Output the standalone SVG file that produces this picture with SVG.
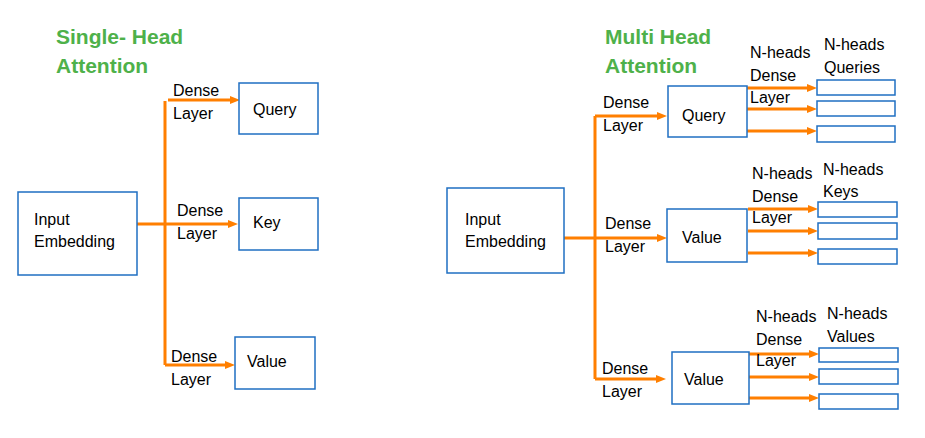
<svg xmlns="http://www.w3.org/2000/svg" width="925" height="438" viewBox="0 0 925 438">
<style>
.bx{fill:#fff;stroke:#1F6FC2;stroke-width:1.5}
.t{font-family:"Liberation Sans",Arial,sans-serif;font-size:16px;fill:#000}
.ttl{font-family:"Liberation Sans",Arial,sans-serif;font-size:21px;font-weight:bold;fill:#4EB14A}
.ln{fill:none;stroke:#FF7F00;stroke-width:3}
</style>
<defs>
<marker id="ah" viewBox="0 0 10 8" refX="0" refY="4" markerWidth="10" markerHeight="8" markerUnits="userSpaceOnUse" orient="auto">
<path d="M0,0 L10,4 L0,8 z" fill="#FF7F00"/>
</marker>
</defs>
<rect width="925" height="438" fill="#fff"/>

<g id="titles">
<text class="ttl" x="56" y="44">Single- Head</text>
<text class="ttl" x="56" y="73">Attention</text>
<text class="ttl" x="605" y="44">Multi Head</text>
<text class="ttl" x="605" y="73">Attention</text>
</g>

<g id="connectors">
<!-- single head -->
<path class="ln" d="M165,101 V365"/>
<path class="ln" d="M168,100 H230" marker-end="url(#ah)"/>
<path class="ln" d="M137,224 H228" marker-end="url(#ah)"/>
<path class="ln" d="M165,365 H225" marker-end="url(#ah)"/>
<!-- multi head -->
<path class="ln" d="M595,116 V379"/>
<path class="ln" d="M595,116 H657" marker-end="url(#ah)"/>
<path class="ln" d="M564,238 H657" marker-end="url(#ah)"/>
<path class="ln" d="M595,379 H656" marker-end="url(#ah)"/>
<path class="ln" d="M747,88 H807" marker-end="url(#ah)"/>
<path class="ln" d="M747,109 H807" marker-end="url(#ah)"/>
<path class="ln" d="M747,131 H807" marker-end="url(#ah)"/>
<path class="ln" d="M748,209 H808" marker-end="url(#ah)"/>
<path class="ln" d="M748,231 H808" marker-end="url(#ah)"/>
<path class="ln" d="M748,253 H808" marker-end="url(#ah)"/>
<path class="ln" d="M749,354 H809" marker-end="url(#ah)"/>
<path class="ln" d="M749,377 H809" marker-end="url(#ah)"/>
<path class="ln" d="M749,398 H809" marker-end="url(#ah)"/>
</g>

<g id="edge-labels">
<text class="t" x="173" y="96">Dense</text>
<text class="t" x="173" y="119">Layer</text>
<text class="t" x="177" y="216">Dense</text>
<text class="t" x="177" y="239">Layer</text>
<text class="t" x="171" y="362">Dense</text>
<text class="t" x="171" y="385">Layer</text>

<text class="t" x="603" y="108">Dense</text>
<text class="t" x="603" y="131">Layer</text>
<text class="t" x="605" y="229">Dense</text>
<text class="t" x="605" y="252">Layer</text>
<text class="t" x="602" y="374">Dense</text>
<text class="t" x="602" y="397">Layer</text>

<text class="t" x="750" y="58">N-heads</text>
<text class="t" x="750" y="81">Dense</text>
<text class="t" x="750" y="103">Layer</text>
<text class="t" x="752" y="179">N-heads</text>
<text class="t" x="752" y="202">Dense</text>
<text class="t" x="752" y="223">Layer</text>
<text class="t" x="756" y="322">N-heads</text>
<text class="t" x="756" y="345">Dense</text>
<text class="t" x="756" y="366">Layer</text>

<text class="t" x="824" y="50">N-heads</text>
<text class="t" x="824" y="73">Queries</text>
<text class="t" x="823" y="175">N-heads</text>
<text class="t" x="823" y="197">Keys</text>
<text class="t" x="827" y="319">N-heads</text>
<text class="t" x="827" y="342">Values</text>
</g>

<g id="sh-input">
<rect class="bx" x="18" y="192" width="119" height="83"/>
<text class="t" x="34" y="225">Input</text>
<text class="t" x="34" y="247">Embedding</text>
</g>
<g id="sh-query">
<rect class="bx" x="239" y="83" width="79" height="51"/>
<text class="t" x="253" y="115">Query</text>
</g>
<g id="sh-key">
<rect class="bx" x="239" y="198" width="79" height="52"/>
<text class="t" x="253" y="228">Key</text>
</g>
<g id="sh-value">
<rect class="bx" x="235" y="337" width="80" height="52"/>
<text class="t" x="247" y="367">Value</text>
</g>

<g id="mh-input">
<rect class="bx" x="447" y="188" width="117" height="85"/>
<text class="t" x="465" y="225">Input</text>
<text class="t" x="465" y="247">Embedding</text>
</g>
<g id="mh-query">
<rect class="bx" x="668" y="86" width="79" height="51"/>
<text class="t" x="682" y="121">Query</text>
</g>
<g id="mh-value1">
<rect class="bx" x="667" y="209" width="80" height="53"/>
<text class="t" x="682" y="243">Value</text>
</g>
<g id="mh-value2">
<rect class="bx" x="672" y="352" width="77" height="52"/>
<text class="t" x="684" y="385">Value</text>
</g>

<g id="mh-queries">
<rect class="bx" x="817" y="80" width="78" height="15"/>
<rect class="bx" x="817" y="101" width="78" height="15"/>
<rect class="bx" x="817" y="126" width="78" height="16"/>
</g>
<g id="mh-keys">
<rect class="bx" x="818" y="202" width="79" height="15"/>
<rect class="bx" x="818" y="223" width="79" height="16"/>
<rect class="bx" x="818" y="249" width="79" height="15"/>
</g>
<g id="mh-values">
<rect class="bx" x="819" y="348" width="79" height="14"/>
<rect class="bx" x="819" y="369" width="79" height="15"/>
<rect class="bx" x="819" y="394" width="79" height="15"/>
</g>
</svg>
